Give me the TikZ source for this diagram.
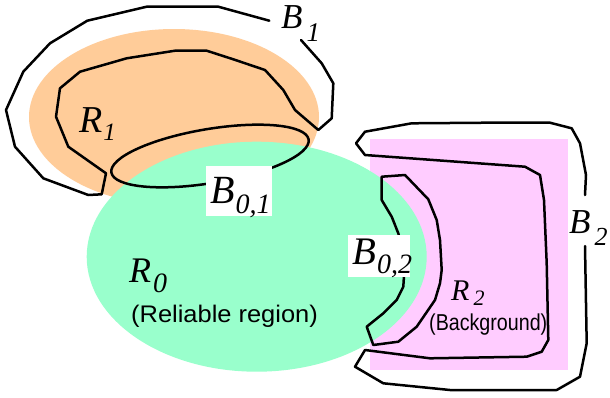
\documentclass[tikz,border=0pt]{standalone}
\usepackage{fontspec}
\usepackage{graphicx}
\setmainfont{Liberation Serif}
\newfontfamily\sansf{Liberation Sans}
\definecolor{orangefill}{RGB}{255,204,153}
\definecolor{greenfill}{RGB}{153,255,204}
\definecolor{pinkfill}{RGB}{255,204,255}
\newcommand\mylbl[6]{{\fontsize{#3}{#3}\selectfont\itshape #1}\kern#6\raisebox{-#5}{\fontsize{#4}{#4}\selectfont\itshape #2}}
\begin{document}
\begin{tikzpicture}[x=1pt,y=-1pt,
  outline/.style={line width=2.5pt, line join=round, line cap=round},
  lbl/.style={inner sep=0pt, anchor=base west},
  sublbl/.style={inner sep=0pt, anchor=base west, font=\sansf}]
\useasboundingbox (0,0) rectangle (610,397);
\fill[white] (0,0) rectangle (610,397);
% regions
\fill[orangefill] (174,117) ellipse [x radius=145pt, y radius=88pt];
\fill[pinkfill] (370,139) rectangle (568,370);
\fill[greenfill] (256.7,256.7) ellipse [x radius=170pt, y radius=115pt];
% B1 band
\draw[outline] (269.3,20.7) -- (218.3,6.7) -- (146.7,6.7) -- (87.3,20.7) -- (50,43.3)
  -- (23.3,71.7) -- (6,110) -- (15,146.7) -- (43.3,178.3) -- (88.3,195) -- (101.7,194.3)
  -- (106,173.3) -- (68.3,146.7) -- (56,116.7) -- (60,88.3) -- (80,71.7) -- (126.7,58.3)
  -- (175,50.7) -- (206.7,50.7) -- (233.3,59.3) -- (265,70) -- (283.3,90) -- (295,110)
  -- (318.3,130) -- (331.7,118.3) -- (333.3,83.3) -- (321.7,63.3) -- (301,40);
% B0,1 ellipse
\draw[outline, rotate around={9.5:(210,156)}] (210,156) ellipse [x radius=100pt, y radius=27pt];
% B2 band
\draw[outline] (585,195) -- (586,175) -- (580,143.3) -- (571.7,128.3) -- (550,122.7)
  -- (486.7,122.7) -- (411.7,123.3) -- (365,131.7) -- (356,143.3) -- (365,155)
  -- (525,166.7) -- (540,175) -- (544,200) -- (546.7,263.3) -- (548.3,340)
  -- (541.7,351.7) -- (526.7,356.7) -- (430,358.3) -- (365,350) -- (355,366.7)
  -- (383.3,383.3) -- (450,390) -- (556.7,390) -- (580,376.7) -- (586.7,343.3) -- (585,246);
% B0,2 band
\draw[outline] (381.7,176.7) -- (405,175) -- (428.3,199.3) -- (436.7,220) -- (440,240)
  -- (441.7,270) -- (440,283.3) -- (435,300) -- (416.7,326.7) -- (398.3,341.7)
  -- (373.3,345) -- (366.7,326.7) -- (383.3,313.3) -- (396.7,300) -- (403.3,286.7)
  -- (405,260) -- (398.3,233.3) -- (391.7,216.7) -- (381.7,200) -- cycle;
% white label boxes
\fill[white] (206,166) rectangle (272,216);
\fill[white] (348,235) rectangle (410,277);
% labels
\node[lbl] (B1) at (281,28) {\mylbl{B}{1}{35pt}{27pt}{13pt}{4pt}};
\node[lbl] (R1) at (79,132) {\mylbl{R}{1}{38pt}{25pt}{8pt}{1pt}};
\node[lbl] (B01) at (210,203) {\mylbl{B}{0,1}{40pt}{28pt}{10pt}{1pt}};
\node[lbl] (B02) at (352,264) {\mylbl{B}{0,2}{39pt}{28pt}{9pt}{1pt}};
\node[lbl] (B2) at (569,233) {\mylbl{B}{2}{35pt}{26pt}{12pt}{4pt}};
\node[lbl] (R0) at (129,282) {\mylbl{R}{0}{36pt}{28pt}{10pt}{2pt}};
\node[lbl] (R2) at (451,300) {\mylbl{R}{2}{30pt}{22pt}{5pt}{4pt}};
\node[sublbl] (rel) at (131,322) {\scalebox{1.06}[1]{\fontsize{24pt}{24pt}\selectfont (Reliable region)}};
\node[sublbl] (bg) at (429,330) {\scalebox{0.855}[1]{\fontsize{23pt}{23pt}\selectfont (Background)}};
\end{tikzpicture}
\end{document}
